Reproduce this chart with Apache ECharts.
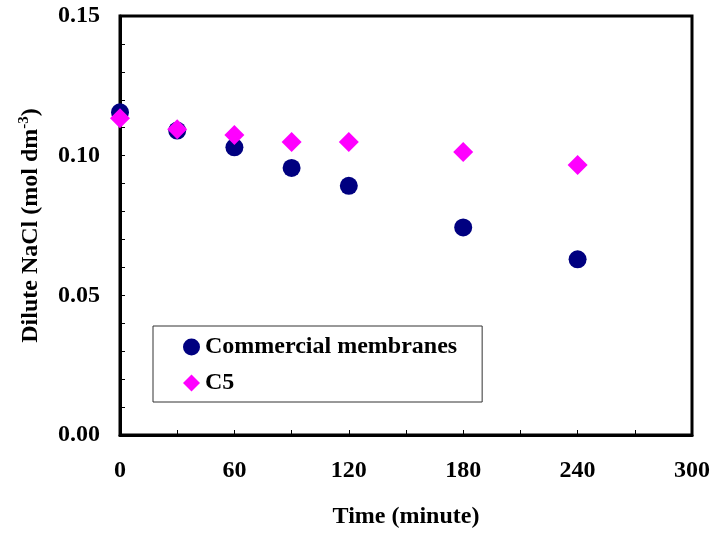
<!DOCTYPE html>
<html>
<head>
<meta charset="utf-8">
<script src="https://cdn.jsdelivr.net/npm/echarts@6/dist/echarts.min.js"></script>
<style>
  html, body { margin: 0; padding: 0; background: #fff; }
  #chart { width: 713px; height: 534px; }
</style>
</head>
<body>
<div id="chart"></div>
<script>
// time in minutes
const times = [0, 30, 60, 90, 120, 180, 240];
// dilute NaCl concentration (mol dm-3)
const commercial = [0.1155, 0.109, 0.103, 0.0956, 0.0892, 0.0743, 0.0629];
const c5 = [0.1134, 0.1095, 0.1074, 0.1049, 0.1049, 0.1013, 0.0967];

const font = "'Liberation Serif', 'Times New Roman', serif";

const chart = echarts.init(document.getElementById("chart"));

const option = {
  animation: false,
  backgroundColor: "#fff",
  textStyle: { fontFamily: font },
  grid: {
    left: 120,
    top: 16,
    right: 21,
    bottom: 95,
    show: true,
    borderColor: "#000",
    borderWidth: 3,
  },
  legend: {
    orient: "vertical",
    left: 153,
    top: 326,
    itemGap: 12,
    itemWidth: 17,
    itemHeight: 17,
    padding: [9, 25, 7, 30],
    borderColor: "#333",
    borderWidth: 1,
    backgroundColor: "#fff",
    textStyle: { fontFamily: font, fontSize: 24, fontWeight: "bold", color: "#000" },
    data: [
      { name: "Commercial membranes", icon: "circle" },
      { name: "C5", icon: "diamond" },
    ],
  },
  xAxis: {
    type: "value",
    min: 0,
    max: 300,
    interval: 60,
    name: "Time (minute)",
    nameLocation: "middle",
    nameGap: 70,
    nameTextStyle: { fontFamily: font, fontSize: 24, fontWeight: "bold", color: "#000" },
    axisLine: { show: true, lineStyle: { color: "#000", width: 3 } },
    axisTick: { inside: true, length: 5, lineStyle: { color: "#000", width: 1 } },
    minorTick: { show: true, splitNumber: 2, length: 5, lineStyle: { color: "#000", width: 1 } },
    axisLabel: { margin: 24, fontFamily: font, fontSize: 24, fontWeight: "bold", color: "#000" },
    splitLine: { show: false },
  },
  yAxis: {
    type: "value",
    min: 0,
    max: 0.15,
    interval: 0.05,
    name: "{a|Dilute NaCl (mol dm}{s|-3}{a|)}",
    nameLocation: "middle",
    nameGap: 76,
    nameTextStyle: {
      rich: {
        a: { fontFamily: font, fontSize: 24, fontWeight: "bold", color: "#000" },
        s: { fontFamily: font, fontSize: 15, fontWeight: "bold", color: "#000", verticalAlign: "top", padding: [0, 0, 12, 0] },
      },
    },
    axisLine: { show: true, lineStyle: { color: "#000", width: 3 } },
    axisTick: { inside: true, length: 5, lineStyle: { color: "#000", width: 1 } },
    minorTick: { show: true, splitNumber: 5, length: 5, lineStyle: { color: "#000", width: 1 } },
    axisLabel: {
      margin: 20,
      fontFamily: font,
      fontSize: 24,
      fontWeight: "bold",
      color: "#000",
      formatter: (v) => v.toFixed(2),
    },
    splitLine: { show: false },
  },
  series: [
    {
      name: "Commercial membranes",
      type: "scatter",
      symbol: "circle",
      symbolSize: 18,
      itemStyle: { color: "#000080", opacity: 1 },
      data: times.map((t, i) => [t, commercial[i]]),
      z: 2,
    },
    {
      name: "C5",
      type: "scatter",
      symbol: "diamond",
      symbolSize: 20,
      itemStyle: { color: "#ff00ff", opacity: 1 },
      data: times.map((t, i) => [t, c5[i]]),
      z: 3,
    },
  ],
};

chart.setOption(option);
</script>
</body>
</html>
